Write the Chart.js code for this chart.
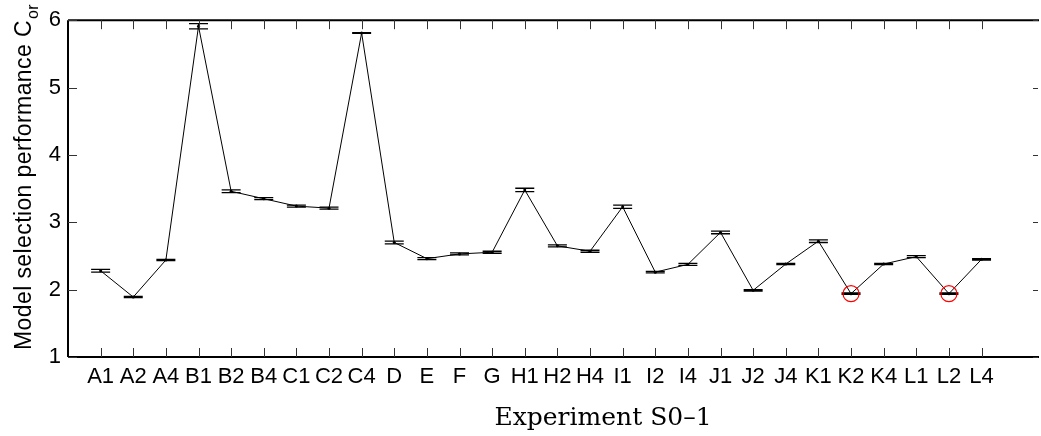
<!DOCTYPE html>
<html>
<head>
<meta charset="utf-8">
<script src="https://cdn.jsdelivr.net/npm/chart.js@4.4.0/dist/chart.umd.min.js"></script>
<style>
  html, body { margin: 0; padding: 0; background: #fff; }
  #wrap { width: 1041px; height: 436px; }
</style>
</head>
<body>
<div id="wrap"><canvas id="chart" width="1041" height="436"></canvas></div>
<script>
// experiment names along the x axis
const categories = ['A1', 'A2', 'A4', 'B1', 'B2', 'B4', 'C1', 'C2', 'C4', 'D', 'E', 'F', 'G',
    'H1', 'H2', 'H4', 'I1', 'I2', 'I4', 'J1', 'J2', 'J4', 'K1', 'K2', 'K4', 'L1', 'L2', 'L4'];
// mean model selection performance
const performance = [2.28, 1.89, 2.44, 5.91, 3.46, 3.35, 3.24, 3.21, 5.81, 2.70, 2.46, 2.53, 2.555,
    3.48, 2.65, 2.57, 3.23, 2.26, 2.375, 2.85, 1.99, 2.38, 2.72, 1.94, 2.38, 2.49, 1.94, 2.45];
// half-width of the error bars
const errors = [0.02, 0.01, 0.01, 0.04, 0.02, 0.015, 0.015, 0.015, 0.005, 0.02, 0.015, 0.015, 0.015,
    0.025, 0.015, 0.015, 0.025, 0.01, 0.015, 0.02, 0.01, 0.01, 0.02, 0.01, 0.01, 0.015, 0.01, 0.01];
// experiments marked with a red circle
const highlighted = ['K2', 'L2'];
const yTicks = [1, 2, 3, 4, 5, 6];

const points = categories.map((c, i) => ({ x: i + 1, y: performance[i] }));

const sans = '"Liberation Sans", Arial, sans-serif';

// axes box, inward ticks, error bars, circles and axis titles
const decorations = {
    id: 'decorations',
    afterDatasetsDraw(chart) {
        const ctx = chart.ctx;
        const a = chart.chartArea;
        const xs = chart.scales.x, ys = chart.scales.y;
        ctx.save();

        // error bars
        ctx.strokeStyle = '#000';
        ctx.lineWidth = 1.3;
        categories.forEach((c, i) => {
            const px = xs.getPixelForValue(i + 1);
            const top = ys.getPixelForValue(performance[i] + errors[i]);
            const bot = ys.getPixelForValue(performance[i] - errors[i]);
            ctx.beginPath();
            ctx.moveTo(px, top); ctx.lineTo(px, bot);
            ctx.moveTo(px - 9.5, top); ctx.lineTo(px + 9.5, top);
            ctx.moveTo(px - 9.5, bot); ctx.lineTo(px + 9.5, bot);
            ctx.stroke();
        });

        // red circles
        ctx.strokeStyle = '#ff0000';
        ctx.lineWidth = 1.2;
        highlighted.forEach(c => {
            const i = categories.indexOf(c);
            ctx.beginPath();
            ctx.arc(xs.getPixelForValue(i + 1), ys.getPixelForValue(performance[i]), 8, 0, Math.PI * 2);
            ctx.stroke();
        });

        // box
        ctx.strokeStyle = '#000';
        ctx.lineWidth = 2;
        ctx.beginPath();
        ctx.moveTo(a.left, a.top); ctx.lineTo(a.right + 2, a.top);
        ctx.moveTo(a.left, a.top); ctx.lineTo(a.left, a.bottom);
        ctx.moveTo(a.left, a.bottom); ctx.lineTo(a.right + 2, a.bottom);
        ctx.stroke();

        // ticks
        ctx.lineWidth = 1;
        ctx.strokeStyle = '#333';
        ctx.beginPath();
        categories.forEach((c, i) => {
            const px = Math.round(xs.getPixelForValue(i + 1)) + 0.5;
            ctx.moveTo(px, a.bottom); ctx.lineTo(px, a.bottom - 9);
            ctx.moveTo(px, a.top); ctx.lineTo(px, a.top + 9);
        });
        yTicks.forEach(v => {
            const py = Math.round(ys.getPixelForValue(v)) + 0.5;
            ctx.moveTo(a.left, py); ctx.lineTo(a.left + 9, py);
            ctx.moveTo(a.right + 1, py); ctx.lineTo(a.right - 4, py);
        });
        ctx.stroke();

        // y title with subscript
        ctx.fillStyle = '#000';
        ctx.translate(31, 350);
        ctx.rotate(-Math.PI / 2);
        ctx.font = '23px ' + sans;
        ctx.letterSpacing = '0.4px';
        ctx.textAlign = 'left';
        ctx.textBaseline = 'alphabetic';
        const main = 'Model selection performance C';
        ctx.fillText(main, 0, 0);
        const w = ctx.measureText(main).width;
        ctx.font = '16px ' + sans;
        ctx.fillText('or', w + 1, 7);
        ctx.restore();

        // x title
        ctx.save();
        ctx.fillStyle = '#000';
        ctx.font = '25px "DejaVu Serif", "Liberation Serif", serif';
        ctx.textAlign = 'center';
        ctx.textBaseline = 'alphabetic';
        ctx.fillText('Experiment S0\u20131', 603, 425);
        ctx.restore();
    }
};

new Chart(document.getElementById('chart'), {
    type: 'line',
    data: {
        datasets: [{
            label: 'Performance',
            data: points,
            borderColor: '#000',
            borderWidth: 1,
            pointRadius: 1.5,
            pointBackgroundColor: '#000',
            pointBorderWidth: 0,
            tension: 0
        }]
    },
    options: {
        responsive: false,
        animation: false,
        layout: { padding: { top: 14, right: 1, left: 0, bottom: 0 } },
        plugins: {
            legend: { display: false },
            tooltip: { enabled: false }
        },
        scales: {
            x: {
                type: 'linear',
                min: 0,
                max: 29.7,
                afterFit(scale) { scale.height = 79; },
                afterBuildTicks(scale) {
                    scale.ticks = categories.map((c, i) => ({ value: i + 1 }));
                },
                grid: { display: false, drawTicks: false },
                border: { display: false },
                ticks: {
                    autoSkip: false,
                    maxRotation: 0,
                    padding: 7,
                    color: '#000',
                    font: { family: sans, size: 22 },
                    callback: v => categories[v - 1] || ''
                }
            },
            y: {
                min: 1,
                max: 6,
                afterFit(scale) { scale.width = 68; },
                afterBuildTicks(scale) {
                    scale.ticks = yTicks.map(v => ({ value: v }));
                },
                grid: { display: false, drawTicks: false },
                border: { display: false },
                ticks: {
                    padding: 7,
                    color: '#000',
                    font: { family: sans, size: 22 }
                }
            }
        }
    },
    plugins: [decorations]
});
</script>
</body>
</html>
